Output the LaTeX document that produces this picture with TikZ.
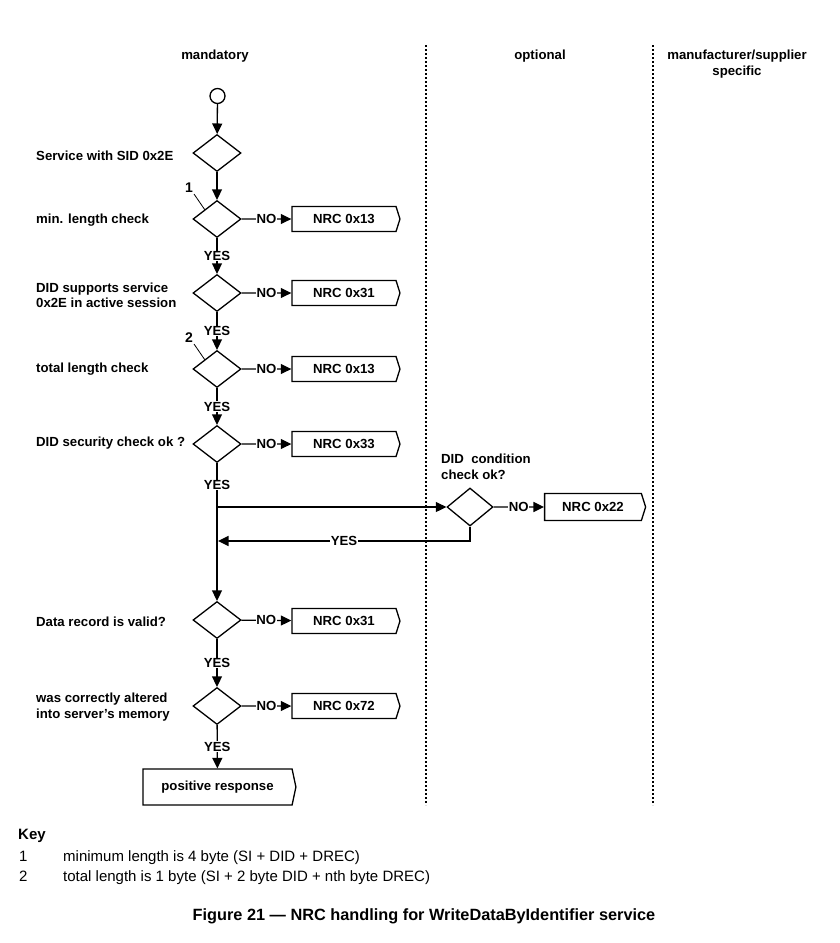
\documentclass[tikz,border=0pt]{standalone}
\usepackage{fontspec}
\setmainfont{Liberation Sans}
\usetikzlibrary{arrows.meta,shapes.geometric,shapes.symbols}
\begin{document}
\begin{tikzpicture}[x=1pt,y=-1pt,
  every node/.style={font=\bfseries\fontsize{13.2}{15.5}\selectfont},
  ln/.style={line width=1.3pt},
  arr/.style={ln,-{Triangle[length=10.5pt,width=10pt]}},
  dec/.style={draw,ln,diamond,inner sep=0pt,minimum width=48pt,minimum height=37pt},
  nrc/.style={draw,ln,signal,signal to=east,signal pointer angle=145,minimum width=108pt,minimum height=25pt,inner sep=0pt},
  lbl/.style={fill=white,inner sep=0.6pt},
  txt/.style={anchor=west,align=left,inner sep=0pt},
  keyt/.style={anchor=base west,inner sep=0pt,font=\fontsize{15}{18}\selectfont},
  sep/.style={line width=1.3pt,dash pattern=on 2pt off 2pt}]
\useasboundingbox (0,0) rectangle (839,943);
% columns
\draw[sep] (426,45) -- (426,805);
\draw[sep] (653,45) -- (653,805);
\node (hm) at (215,56) {mandatory};
\node (ho) at (540,56) {optional};
\node[align=center] (hs) at (737,64) {manufacturer/supplier\\specific};
% start
\node[draw,ln,circle,minimum size=15pt,inner sep=0pt] (start) at (217.5,96) {};
% decisions
\node[dec] (d0) at (217,153) {};
\node[dec] (d1) at (217,219) {};
\node[dec] (d2) at (217,293) {};
\node[dec] (d3) at (217,369) {};
\node[dec] (d4) at (217,444) {};
\node[dec] (d5) at (217,620) {};
\node[dec] (d7) at (217,706) {};
\node[dec,minimum width=46pt,minimum height=38pt] (d6) at (470,507) {};
% texts
\node[txt] (t0) at (36,156) {Service with SID 0x2E};
\node[txt] (t1) at (36,220) {min. length check};
\node[txt] (t2) at (36,295.5) {DID supports service\\0x2E in active session};
\node[txt] (t3) at (36,369.5) {total length check};
\node[txt] (t4) at (36,443.5) {DID security check ok ?};
\node[txt] (t5) at (36,622) {Data record is valid?};
\node[txt] (t7) at (36,707) {was correctly altered\\into server's memory};
\node[txt] (t6) at (441,467) {DID\ \ condition\\check ok?};
% NRC boxes
\node[nrc] (n1) at (344,219) {NRC 0x13};
\node[nrc] (n2) at (344,293) {NRC 0x31};
\node[nrc] (n3) at (344,369) {NRC 0x13};
\node[nrc] (n4) at (344,444) {NRC 0x33};
\node[nrc] (n5) at (344,621) {NRC 0x31};
\node[nrc] (n7) at (344,706) {NRC 0x72};
\node[nrc,minimum width=101pt,minimum height=27pt] (n6) at (593,507) {NRC 0x22};
\node[nrc,signal pointer angle=156,minimum width=153pt,minimum height=36pt] (pr) at (217.5,787) {positive response};
% main flow
\draw[arr] (start) -- (d0);
\draw[arr] (d0) -- (d1);
\draw[arr] (d1) -- node[lbl]{YES} (d2);
\draw[arr] (d2) -- node[lbl]{YES} (d3);
\draw[arr] (d3) -- node[lbl]{YES} (d4);
\draw[arr] (d4) -- node[lbl,pos=0.16]{YES} (d5);
\draw[arr] (d5) -- node[lbl]{YES} (d7);
\draw[arr] (d7) -- node[lbl]{YES} (pr);
% NO branches
\draw[arr] (d1) -- node[lbl]{NO} (n1);
\draw[arr] (d2) -- node[lbl]{NO} (n2);
\draw[arr] (d3) -- node[lbl]{NO} (n3);
\draw[arr] (d4) -- node[lbl]{NO} (n4);
\draw[arr] (d5) -- node[lbl]{NO} (n5);
\draw[arr] (d7) -- node[lbl]{NO} (n7);
\draw[arr] (d6) -- node[lbl]{NO} (n6);
% optional branch
\coordinate (br1) at (217,507);
\coordinate (br2) at (218,541);
\draw[arr] (br1) -- (d6);
\draw[arr] (d6.south) |- node[lbl,pos=0.75]{YES} (br2);
% footnote markers
\node[font=\bfseries\fontsize{14}{16}\selectfont] (k1) at (189,188) {1};
\node[font=\bfseries\fontsize{14}{16}\selectfont] (k2) at (189,338) {2};
\coordinate (k1e) at (205,210);
\coordinate (k2e) at (205,360);
\draw[line width=0.8pt] (194,194) -- (k1e);
\draw[line width=0.8pt] (194,344) -- (k2e);
% key
\node[keyt,font=\bfseries\fontsize{15}{18}\selectfont] (key) at (18,839) {Key};
\node[keyt] (kn1) at (19,861) {1};
\node[keyt] (kt1) at (63,861) {minimum length is 4 byte (SI + DID + DREC)};
\node[keyt] (kn2) at (19,881) {2};
\node[keyt] (kt2) at (63,881) {total length is 1 byte (SI + 2 byte DID + nth byte DREC)};
\node[font=\bfseries\fontsize{16.3}{19}\selectfont] (cap) at (424,916) {Figure 21 — NRC handling for WriteDataByIdentifier service};
\end{tikzpicture}
\end{document}
